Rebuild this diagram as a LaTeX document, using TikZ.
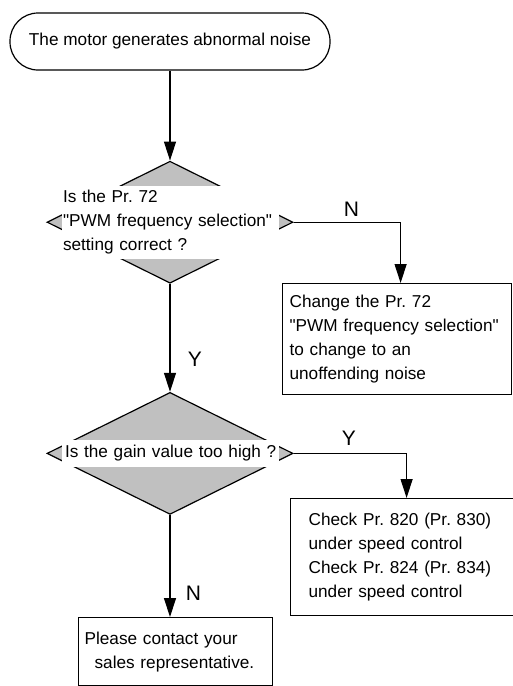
\documentclass[tikz,border=0pt]{standalone}
\usepackage{fontspec}
\setmainfont{Liberation Sans}
\frenchspacing
\definecolor{shade}{RGB}{192, 192, 192}
\usetikzlibrary{shapes.geometric, arrows.meta, positioning}

\begin{document}
\begin{tikzpicture}[
			x=1pt, y=-1pt,
			font=\fontsize{17.2}{24}\selectfont,
			terminal/.style={rectangle, draw, rounded corners=28pt, minimum width=320pt,
				minimum height=57pt, line width=1.2pt},
			decision/.style={diamond, draw, fill=shade, minimum width=246pt, minimum height=122pt,
				inner sep=0pt, line width=1.2pt},
			question/.style={rectangle, fill=white, minimum width=217pt, text width=214pt,
				inner xsep=1.5pt, inner ysep=0pt, align=left},
			box/.style={rectangle, draw, anchor=north west, align=left, line width=1.2pt},
			line/.style={-{Triangle[length=19pt, width=12pt]}, line width=1.2pt},
			answer/.style={font=\fontsize{21}{24}\selectfont}
			]
			\useasboundingbox (0,0) rectangle (513,686);
			\node[terminal] (noise) at (170,41.5) {The motor generates abnormal noise};
			\node[decision, below=90pt of noise] (pwm) {};
			\node[question, minimum height=73pt] (pwmq) at (pwm)
				{Is the Pr. 72\\\textquotedbl PWM frequency selection\textquotedbl\\setting correct ?};
			\node[decision, below=108pt of pwm] (gain) {};
			\node[question, minimum height=27pt] (gainq) at (gain) {\hspace{2pt}Is the gain value too high ?};
			\node[box, minimum width=229pt, minimum height=111pt, text width=215pt, inner xsep=7pt] (change) at (282,283)
				{Change the Pr. 72\\\textquotedbl PWM frequency selection\textquotedbl\\to change to an\\unoffending noise};
			\node[box, minimum width=221pt, minimum height=117pt, text width=196pt, inner xsep=18pt] (check) at (290,498)
				{Check Pr. 820 (Pr. 830)\\under speed control\\Check Pr. 824 (Pr. 834)\\under speed control};
			\node[box, minimum width=194pt, minimum height=68pt, text width=182pt, inner xsep=6pt] (contact) at (78,617)
				{Please contact your\\\hspace{10pt}sales representative.};

			% answers on the branches
			\draw[line] (noise) -- (pwm);
			\draw[line] (pwm) -- node[answer, pos=0.70, right=14pt] (y1) {Y} (gain);
			\draw[line] (pwm.east) -| node[answer, pos=0.27, above=2pt] (n1) {N} ([xshift=3.5pt]change.north);
			\draw[line] (gain.east) -| node[answer, pos=0.245, above=4pt] (y2) {Y} (check.north);
			\draw[line] (gain) -- node[answer, pos=0.77, right=12pt] (n2) {N} (gain |- contact.north);
		\end{tikzpicture}
\end{document}
